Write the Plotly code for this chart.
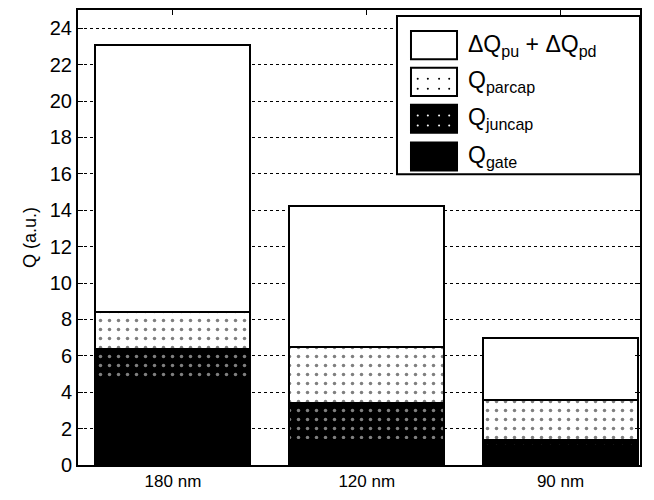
import plotly.graph_objects as go

# Charge components per technology node (arbitrary units)
nodes = ["180 nm", "120 nm", "90 nm"]
q_gate = [4.7, 1.4, 1.05]
q_juncap = [1.7, 2.0, 0.35]
q_parcap = [2.0, 3.1, 2.15]
dq_pu_pd = [14.7, 7.75, 3.45]
y_ticks = list(range(0, 25, 2))

series_names = ["Q<sub>gate</sub>", "Q<sub>juncap</sub>", "Q<sub>parcap</sub>",
                "ΔQ<sub>pu</sub> + ΔQ<sub>pd</sub>"]
series_values = [q_gate, q_juncap, q_parcap, dq_pu_pd]

# fill style per series: (background, pattern shape, pattern colour)
styles = [
    ("black", "", "black"),
    ("black", ".", "white"),
    ("white", ".", "black"),
    ("white", "", "black"),
]

FONT = "Liberation Sans, Arial, sans-serif"
x_pos = [1, 2, 3]

fig = go.Figure()
for name, vals, (bg, shape, fg) in zip(series_names, series_values, styles):
    pattern = dict(shape=shape, fgcolor=fg, bgcolor=bg, size=9, solidity=0.12) if shape else None
    fig.add_trace(go.Bar(
        x=x_pos, y=vals, name=name, width=0.8,
        marker=dict(color=bg, line=dict(color="black", width=2), pattern=pattern),
        showlegend=False,
    ))

# legend box drawn in paper coordinates, top entry first
legend_x0, legend_x1 = 0.5676, 1.0
legend_y0, legend_y1 = 0.639, 0.987
fig.add_shape(type="rect", xref="paper", yref="paper",
              x0=legend_x0, x1=legend_x1, y0=legend_y0, y1=legend_y1,
              fillcolor="white", line=dict(color="black", width=2), layer="above")
row_tops = [0.954, 0.873, 0.792, 0.709]
row_h = 0.062
for i, idx in enumerate([3, 2, 1, 0]):
    bg, shape, fg = styles[idx]
    top = row_tops[i]
    fig.add_shape(type="rect", xref="paper", yref="paper",
                  x0=0.5925, x1=0.6744, y0=top - row_h, y1=top,
                  fillcolor=bg, line=dict(color="black", width=2), layer="above")
    if shape:
        # a few dots inside the swatch to echo the bar texture
        for dx in (0.012, 0.03, 0.05, 0.068):
            for dy in (0.016, 0.038):
                cx = 0.5925 + dx
                cy = top - row_h + dy
                fig.add_shape(type="circle", xref="paper", yref="paper",
                              x0=cx - 0.0018, x1=cx + 0.0018, y0=cy - 0.0022, y1=cy + 0.0022,
                              fillcolor=fg, line=dict(width=0), layer="above")
    fig.add_annotation(xref="paper", yref="paper", x=0.69, y=top - row_h / 2,
                       text=series_names[idx], showarrow=False, xanchor="left",
                       yanchor="middle", font=dict(family=FONT, size=23, color="black"))

fig.update_layout(
    width=654, height=500,
    margin=dict(l=78, r=14, t=8, b=35),
    barmode="stack",
    plot_bgcolor="white", paper_bgcolor="white",
    font=dict(family=FONT, color="black"),
)
fig.update_xaxes(
    range=[0.51, 3.41], tickvals=x_pos, ticktext=nodes,
    showline=True, linecolor="black", linewidth=2, mirror="ticks",
    ticks="inside", ticklen=5, tickcolor="black", tickwidth=1,
    showgrid=False, zeroline=False, tickfont=dict(size=17),
)
fig.update_yaxes(
    range=[0, 25], tickvals=y_ticks,
    showline=True, linecolor="black", linewidth=2, mirror="ticks",
    ticks="inside", ticklen=5, tickcolor="black", tickwidth=1,
    showgrid=True, gridcolor="black", griddash="dot", gridwidth=1,
    zeroline=False, tickfont=dict(size=20),
    title=dict(text="Q (a.u.)", font=dict(size=18), standoff=8),
)

fig.write_html("out.html")
